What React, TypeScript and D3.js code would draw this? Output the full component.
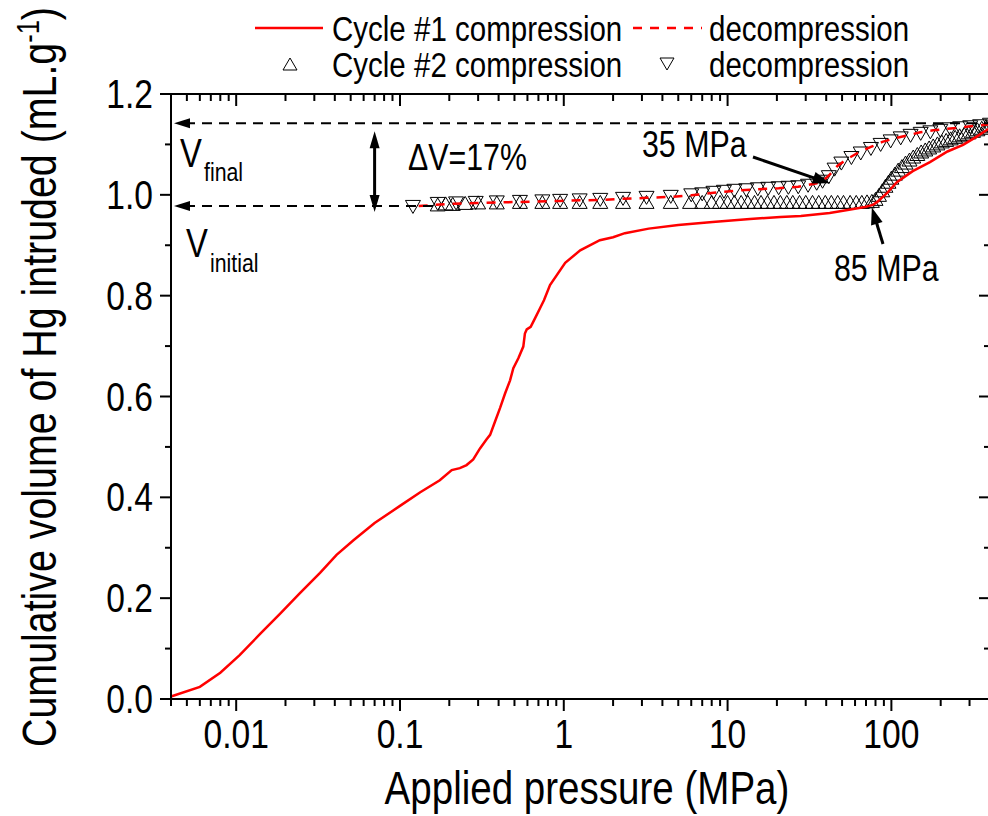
import React from 'react';
import * as d3 from 'd3';

// Cycle #1 compression (red solid)
const c1CompP = [0.004, 0.006, 0.008, 0.0105, 0.014, 0.0185, 0.0245, 0.0325, 0.041, 0.052, 0.07, 0.1, 0.133, 0.175, 0.207, 0.232, 0.255, 0.28, 0.308, 0.338, 0.355, 0.38, 0.408, 0.438, 0.47, 0.492, 0.528, 0.566, 0.579, 0.594, 0.628, 0.667, 0.716, 0.757, 0.824, 1.02, 1.26, 1.66, 2.0, 2.36, 3.3, 5.0, 8.1, 13.7, 21, 28, 42, 54, 69, 77, 82, 95, 108, 135, 172, 220, 274, 330, 384, 400];
const c1CompV = [0.005, 0.024, 0.052, 0.087, 0.129, 0.169, 0.21, 0.25, 0.286, 0.315, 0.349, 0.383, 0.41, 0.434, 0.454, 0.458, 0.464, 0.475, 0.497, 0.515, 0.524, 0.55, 0.577, 0.606, 0.632, 0.656, 0.676, 0.699, 0.725, 0.733, 0.738, 0.755, 0.775, 0.791, 0.821, 0.865, 0.89, 0.91, 0.916, 0.924, 0.933, 0.94, 0.946, 0.952, 0.956, 0.958, 0.964, 0.97, 0.976, 0.98, 0.986, 1.005, 1.025, 1.047, 1.065, 1.086, 1.099, 1.115, 1.129, 1.132];

// Cycle #1 decompression (red dashed)
const c1DecP = [400, 330, 270, 220, 180, 150, 125, 105, 88, 75, 63, 55, 47, 42, 38, 35, 27, 20.5, 15.3, 11, 8.2, 6, 4.5, 3.2, 2.3, 1.67, 0.95, 0.54, 0.3, 0.2, 0.12];
const c1DecV = [1.14, 1.137, 1.134, 1.131, 1.128, 1.124, 1.118, 1.112, 1.105, 1.095, 1.084, 1.073, 1.058, 1.04, 1.027, 1.023, 1.016, 1.013, 1.011, 1.008, 1.004, 0.999, 0.996, 0.994, 0.992, 0.99, 0.988, 0.986, 0.984, 0.982, 0.977];

// Cycle #2 compression (up triangles)
const c2CompP = [0.17, 0.19, 0.21, 0.25, 0.3, 0.39, 0.54, 0.74, 0.95, 1.25, 1.67, 2.3, 3.2, 4.5, 5.9, 7.0, 8.0, 9.0, 10.0, 11.0, 12.1, 13.3, 14.6, 16.0, 17.5, 19.2, 21, 23, 25, 27.5, 30, 33, 36, 39.5, 43, 47, 51, 56, 61, 66, 71, 76, 80, 84, 88, 92, 96, 100, 105, 110, 116, 122, 129, 136, 144, 152, 161, 170, 180, 191, 203, 216, 230, 245, 261, 278, 296, 315, 335, 356, 378, 400];
const c2CompV = [0.981, 0.983, 0.982, 0.984, 0.985, 0.985, 0.986, 0.986, 0.986, 0.986, 0.986, 0.986, 0.986, 0.986, 0.986, 0.986, 0.986, 0.986, 0.986, 0.986, 0.986, 0.986, 0.986, 0.986, 0.986, 0.986, 0.986, 0.986, 0.986, 0.986, 0.986, 0.986, 0.986, 0.986, 0.986, 0.986, 0.986, 0.986, 0.986, 0.986, 0.987, 0.988, 0.992, 1.0, 1.009, 1.018, 1.026, 1.034, 1.042, 1.05, 1.057, 1.064, 1.07, 1.076, 1.081, 1.086, 1.09, 1.094, 1.098, 1.102, 1.106, 1.109, 1.112, 1.115, 1.118, 1.121, 1.124, 1.127, 1.13, 1.133, 1.136, 1.139];

// Cycle #2 decompression (down triangles)
const c2DecP = [400, 348, 303, 263, 229, 199, 173, 151, 131, 114, 99, 86, 75, 65, 57, 49.5, 45, 41.5, 38, 35, 31, 27, 23.5, 20.5, 17.7, 15.3, 13, 11, 9.5, 8.2, 7, 6, 4.5, 3.2, 2.3, 1.67, 1.25, 0.95, 0.74, 0.54, 0.39, 0.29, 0.22, 0.17, 0.12];
const c2DecV = [1.139, 1.136, 1.134, 1.132, 1.13, 1.127, 1.124, 1.121, 1.117, 1.112, 1.106, 1.099, 1.091, 1.082, 1.073, 1.062, 1.05, 1.035, 1.026, 1.022, 1.018, 1.015, 1.014, 1.013, 1.012, 1.011, 1.009, 1.008, 1.006, 1.004, 1.001, 0.999, 0.996, 0.994, 0.992, 0.99, 0.989, 0.988, 0.987, 0.986, 0.985, 0.984, 0.983, 0.982, 0.976];

const xMajor = [0.01, 0.1, 1, 10, 100];
const xMajorLabels = ['0.01', '0.1', '1', '10', '100'];
const yMajor = [0, 0.2, 0.4, 0.6, 0.8, 1.0, 1.2];
const yMajorLabels = ['0.0', '0.2', '0.4', '0.6', '0.8', '1.0', '1.2'];
const yMinor = [0.1, 0.3, 0.5, 0.7, 0.9, 1.1];

const V_FINAL = 1.142;
const V_INITIAL = 0.978;

const W = 988;
const H = 816;
const FONT = "'Liberation Sans',Arial,sans-serif";
const NARROW = 0.82;

function tri(cx: number, cy: number, up: boolean, w = 15, h = 13) {
  if (up) return `M${cx - w / 2},${cy + h / 2}L${cx},${cy - h / 2}L${cx + w / 2},${cy + h / 2}Z`;
  return `M${cx - w / 2},${cy - h / 2}L${cx},${cy + h / 2}L${cx + w / 2},${cy - h / 2}Z`;
}

function head(x1: number, y1: number, x2: number, y2: number, len = 16, hw = 5) {
  const dx = x2 - x1, dy = y2 - y1;
  const L = Math.sqrt(dx * dx + dy * dy);
  const ux = dx / L, uy = dy / L;
  const bx = x2 - ux * len, by = y2 - uy * len;
  return `${x2},${y2} ${bx - uy * hw},${by + ux * hw} ${bx + uy * hw},${by - ux * hw}`;
}

function Arrow({ x1, y1, x2, y2, both = false, sw = 3, len = 16, hw = 5 }: any) {
  const dx = x2 - x1, dy = y2 - y1;
  const L = Math.sqrt(dx * dx + dy * dy);
  const ux = dx / L, uy = dy / L;
  const sx = both ? x1 + ux * len * 0.8 : x1;
  const sy = both ? y1 + uy * len * 0.8 : y1;
  return (
    <g>
      <line x1={sx} y1={sy} x2={x2 - ux * len * 0.8} y2={y2 - uy * len * 0.8} stroke="#000" strokeWidth={sw} />
      <polygon points={head(x1, y1, x2, y2, len, hw)} fill="#000" />
      {both && <polygon points={head(x2, y2, x1, y1, len, hw)} fill="#000" />}
    </g>
  );
}

function T({ x, y, size, anchor = 'start', rotate = false, children }: any) {
  return (
    <text
      transform={`translate(${x},${y})${rotate ? ' rotate(-90)' : ''} scale(${NARROW},1)`}
      fontSize={size}
      textAnchor={anchor}
      fill="#000"
    >
      {children}
    </text>
  );
}

export default function App() {
  const x = d3.scaleLog().domain([0.004, 400]).range([171, 990]);
  const y = d3.scaleLinear().domain([0, 1.2]).range([699, 94]);

  const path = (P: number[], V: number[]) =>
    d3.line<number>().x((i) => x(P[i])).y((i) => y(V[i]))(P.map((_, i) => i)) || '';

  const xAll = x.ticks().filter((t) => t >= 0.004 && t <= 400);
  const xMinor = xAll.filter((t) => !xMajor.some((m) => Math.abs(m - t) / m < 1e-6));

  const x0 = x.range()[0];
  const x1 = x.range()[1];
  const y0 = y.range()[0];
  const y1 = y.range()[1];

  return (
    <svg width={W} height={H} style={{ position: 'absolute', left: 0, top: 0, background: '#fff' }} fontFamily={FONT}>
      <rect x={0} y={0} width={W} height={H} fill="#fff" />
      {/* markers: cycle 2 */}
      <g fill="none" stroke="#000" strokeWidth={1}>
        {c2CompP.map((p, i) => (
          <path key={'c' + i} d={tri(x(p), y(c2CompV[i]), true)} />
        ))}
        {c2DecP.map((p, i) => (
          <path key={'d' + i} d={tri(x(p), y(c2DecV[i]), false)} />
        ))}
      </g>
      {/* cycle 1 lines */}
      <path d={path(c1CompP, c1CompV)} fill="none" stroke="#ff0000" strokeWidth={2.5} />
      <path d={path(c1DecP, c1DecV)} fill="none" stroke="#ff0000" strokeWidth={2.5} strokeDasharray="9,8" />

      {/* axes */}
      <g stroke="#000" strokeWidth={2}>
        <line x1={x0} y1={y0} x2={x1} y2={y0} />
        <line x1={x0} y1={y1} x2={x1} y2={y1} />
        <line x1={x0} y1={y0 + 1} x2={x0} y2={y1 - 1} />
        <line x1={x1} y1={y0 + 1} x2={x1} y2={y1 - 1} />
        {xMajor.map((t) => (
          <g key={'xm' + t}>
            <line x1={x(t)} x2={x(t)} y1={y0} y2={y0 + 12} />
            <line x1={x(t)} x2={x(t)} y1={y1} y2={y1 + 12} />
          </g>
        ))}
        {xMinor.map((t) => (
          <g key={'xn' + t}>
            <line x1={x(t)} x2={x(t)} y1={y0} y2={y0 + 7} />
            <line x1={x(t)} x2={x(t)} y1={y1} y2={y1 + 7} />
          </g>
        ))}
        {yMajor.map((t) => (
          <g key={'ym' + t}>
            <line x1={x0 - 11} x2={x0} y1={y(t)} y2={y(t)} />
            <line x1={x1 - 11} x2={x1} y1={y(t)} y2={y(t)} />
          </g>
        ))}
        {yMinor.map((t) => (
          <g key={'yn' + t}>
            <line x1={x0 - 6} x2={x0} y1={y(t)} y2={y(t)} />
            <line x1={x1 - 6} x2={x1} y1={y(t)} y2={y(t)} />
          </g>
        ))}
      </g>
      {xMajor.map((t, i) => (
        <T key={'xl' + t} x={x(t)} y={748} size={41} anchor="middle">
          {xMajorLabels[i]}
        </T>
      ))}
      {yMajor.map((t, i) => (
        <T key={'yl' + t} x={153} y={y(t) + 14} size={41} anchor="end">
          {yMajorLabels[i]}
        </T>
      ))}
      <T x={587} y={804} size={47} anchor="middle">
        Applied pressure (MPa)
      </T>
      <T x={56} y={377} size={48} anchor="middle" rotate>
        Cumulative volume of Hg intruded (mL.g
        <tspan dy={-17} fontSize={31}>-1</tspan>
        <tspan dy={17}>)</tspan>
      </T>

      {/* reference dashed lines */}
      <g stroke="#000" strokeWidth={2} strokeDasharray="10,7">
        <line x1={x0 + 14} x2={x1} y1={y(V_FINAL)} y2={y(V_FINAL)} />
        <line x1={x0 + 14} x2={x(0.17)} y1={y(V_INITIAL)} y2={y(V_INITIAL)} />
      </g>
      <polygon points={head(x0 + 30, y(V_FINAL), x0 + 3, y(V_FINAL), 16, 5)} fill="#000" />
      <polygon points={head(x0 + 30, y(V_INITIAL), x0 + 3, y(V_INITIAL), 16, 5)} fill="#000" />
      <Arrow x1={x(0.07)} y1={y(1.126)} x2={x(0.07)} y2={y(0.966)} both sw={3} len={17} hw={5} />

      <T x={180} y={167} size={40}>V</T>
      <T x={204} y={181} size={26}>final</T>
      <T x={186} y={257} size={40}>V</T>
      <T x={210} y={272} size={26}>initial</T>
      <T x={408} y={170} size={37}>ΔV=17%</T>

      <T x={642} y={157} size={37}>35 MPa</T>
      <Arrow x1={753} y1={157} x2={x(42)} y2={y(1.023)} sw={3} len={17} hw={6} />
      <T x={834} y={281} size={37}>85 MPa</T>
      <Arrow x1={883} y1={244} x2={x(76)} y2={y(0.975)} sw={3} len={17} hw={6} />

      {/* legend */}
      <line x1={255} x2={323} y1={28} y2={28} stroke="#ff0000" strokeWidth={2.5} />
      <T x={332} y={41} size={36}>Cycle #1 compression</T>
      <line x1={633} x2={702} y1={28} y2={28} stroke="#ff0000" strokeWidth={2.5} strokeDasharray="9,8" />
      <T x={709} y={41} size={36}>decompression</T>
      <path d={tri(290, 64, true, 14, 12)} fill="none" stroke="#000" strokeWidth={1} />
      <T x={332} y={77} size={36}>Cycle #2 compression</T>
      <path d={tri(667, 64, false, 14, 12)} fill="none" stroke="#000" strokeWidth={1} />
      <T x={709} y={77} size={36}>decompression</T>
    </svg>
  );
}
